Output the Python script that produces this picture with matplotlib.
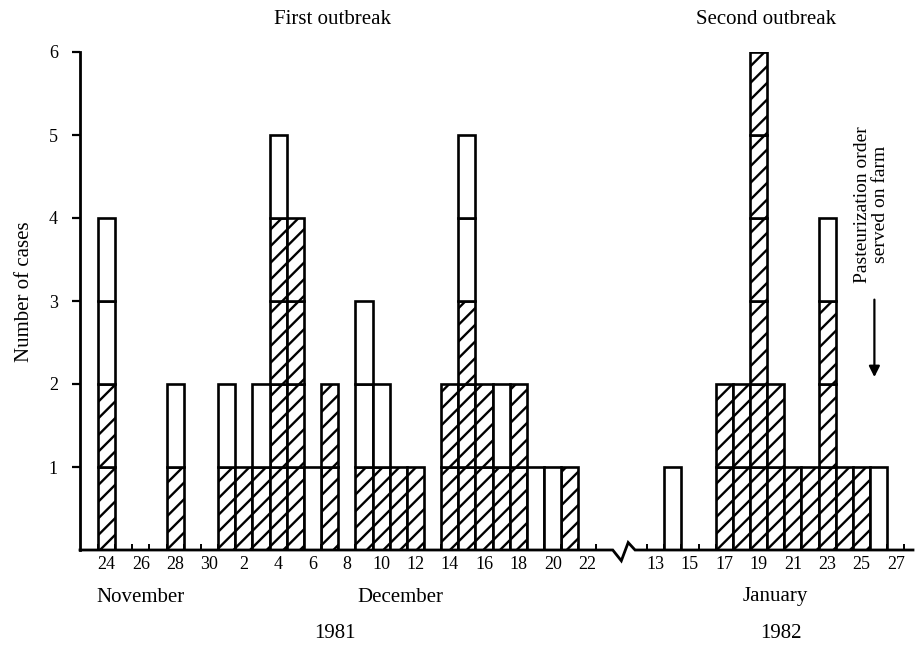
import numpy as np
import matplotlib
matplotlib.use("Agg")
import matplotlib.pyplot as plt
import matplotlib.transforms as mtransforms

# first outbreak: 24 Nov .. 22 Dec 1981, one entry per day
first_days = [24, 25, 26, 27, 28, 29, 30,
              1, 2, 3, 4, 5, 6, 7, 8, 9, 10, 11, 12, 13, 14, 15, 16, 17, 18, 19, 20, 21, 22]
first_hatched = [2, 0, 0, 0, 1, 0, 0,
                 1, 1, 1, 4, 4, 0, 2, 0, 1, 1, 1, 1, 0, 2, 3, 2, 1, 2, 0, 0, 1, 0]
first_open = [2, 0, 0, 0, 1, 0, 0,
              1, 0, 1, 1, 0, 1, 0, 0, 2, 1, 0, 0, 0, 0, 2, 0, 1, 0, 1, 1, 0, 0]
first_labels = [24, 26, 28, 30, 2, 4, 6, 8, 10, 12, 14, 16, 18, 20, 22]

# second outbreak: 13 Jan .. 27 Jan 1982
second_days = [13, 14, 15, 16, 17, 18, 19, 20, 21, 22, 23, 24, 25, 26, 27]
second_hatched = [0, 0, 0, 0, 2, 2, 6, 2, 1, 1, 3, 1, 1, 0, 0]
second_open = [0, 1, 0, 0, 0, 0, 0, 0, 0, 0, 1, 0, 0, 1, 0]
second_labels = [13, 15, 17, 19, 21, 23, 25, 27]

months = ["November", "December", "January"]
years = ["1981", "1982"]

GAP = 32  # position of 13 Jan on the day axis (break in the axis)


def main():
    plt.rcParams['font.family'] = ['Liberation Serif', 'DejaVu Serif']
    plt.rcParams['hatch.linewidth'] = 1.7

    fig = plt.figure(figsize=(9.16, 6.46), dpi=100)
    W, H = 916, 646
    ax = fig.add_axes([80/W, (H-550)/H, (913-80)/W, (550-52)/H])

    x1 = np.arange(len(first_days))
    x2 = GAP + np.arange(len(second_days))
    xs = np.concatenate([x1, x2])
    hatched = np.array(first_hatched + second_hatched)
    opened = np.array(first_open + second_open)
    total = hatched + opened

    # one box per case, hatched boxes at the bottom
    for k in range(total.max()):
        m = total > k
        h = hatched[m] > k
        xx = xs[m]
        ax.bar(xx[h], 1, bottom=k, width=1, align='edge', facecolor='white',
               edgecolor='black', linewidth=1.9, hatch='//')
        ax.bar(xx[~h], 1, bottom=k, width=1, align='edge', facecolor='white',
               edgecolor='black', linewidth=1.9)

    # tick label positions
    lab_x = [x1[first_days.index(d)] + 0.5 for d in first_labels]
    lab_x += [x2[second_days.index(d)] + 0.5 for d in second_labels]
    ax.set_xticks(lab_x)
    ax.set_xticklabels([str(d) for d in first_labels + second_labels], fontsize=13)
    ax.tick_params(axis='x', length=0, pad=4)

    # little ticks at the edges of the labelled days
    edges = []
    for c in lab_x:
        edges += [c - 0.5, c + 0.5]
    ax.vlines(edges, 0, 0.07, color='black', linewidth=1.4)

    ax.set_xlim(-1.05, 47.5)
    ax.set_ylim(0, 6)
    ax.set_yticks([1, 2, 3, 4, 5, 6])
    ax.set_yticklabels(['1', '2', '3', '4', '5', '6'], fontsize=13)
    ax.tick_params(axis='y', length=6, width=1.6, pad=10)

    for s in ['top', 'right', 'bottom']:
        ax.spines[s].set_visible(False)
    ax.spines['left'].set_linewidth(2.0)

    # baseline with the break mark between December and January
    bx = [-1.05, 30.0, 30.5, 30.9, 31.3, 47.5]
    by = [0, 0, -0.13, 0.09, 0, 0]
    ax.plot(bx, by, color='black', linewidth=2.0, clip_on=False,
            solid_joinstyle='miter')

    # arrow and note for the pasteurization order
    ax.annotate('', xy=(45.25, 2.05), xytext=(45.25, 3.05),
                arrowprops=dict(arrowstyle='-|>', color='black', lw=1.6,
                                mutation_scale=16))
    ax.text(45.1, 4.16, "Pasteurization order\nserved on farm", rotation=90,
            ha='center', va='center', fontsize=14, linespacing=1.05)

    # titles and date captions
    fig.text(333/W, 1-19/H, "First outbreak", ha='center', va='center', fontsize=15)
    fig.text(766/W, 1-19/H, "Second outbreak", ha='center', va='center', fontsize=15)
    fig.text(25/W, 1-292/H, "Number of cases", rotation=90, ha='center',
             va='center', fontsize=15)

    trans = mtransforms.blended_transform_factory(ax.transData, fig.transFigure)
    for name, x in zip(months, [2.45, 17.6, 39.5]):
        ax.text(x, 1-597/H, name, transform=trans, ha='center', va='center',
                fontsize=15)
    for name, x in zip(years, [13.8, 39.8]):
        ax.text(x, 1-633/H, name, transform=trans, ha='center', va='center',
                fontsize=15)

    fig.savefig('out.png', dpi=100)
    return 0


if __name__ == "__main__":
    main()
